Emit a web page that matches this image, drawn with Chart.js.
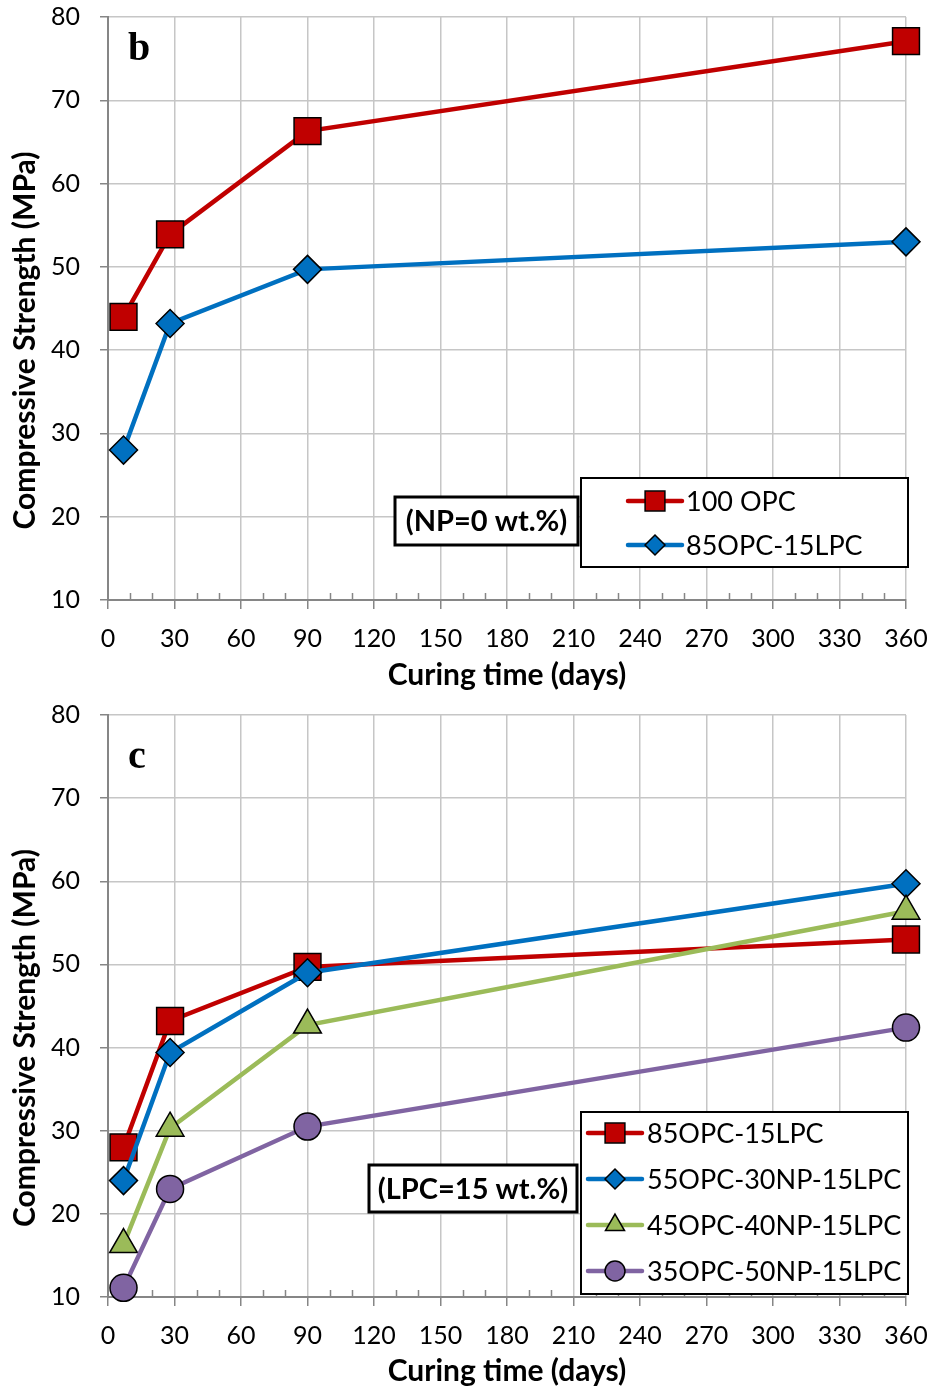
<!DOCTYPE html>
<html>
<head>
<meta charset="utf-8">
<script src="https://cdn.jsdelivr.net/npm/chart.js@4.4.0/dist/chart.umd.min.js"></script>
<style>
  body { margin: 0; background: #fff; }
  canvas { display: block; }
</style>
</head>
<body>
<canvas id="panelB" width="932" height="695"></canvas>
<canvas id="panelC" width="932" height="694"></canvas>
<script>
// curing ages (days) and compressive strength (MPa)
var curingDays = [7, 28, 90, 360];

// panel b (NP = 0 wt.%)
var labelsB = ["100 OPC", "85OPC-15LPC"];
var opc100 = [44.0, 53.9, 66.3, 77.1];
var opc85lpc15 = [28.0, 43.2, 49.7, 53.0];

// panel c (LPC = 15 wt.%)
var labelsC = ["85OPC-15LPC", "55OPC-30NP-15LPC", "45OPC-40NP-15LPC", "35OPC-50NP-15LPC"];
var mixC85 = [28.0, 43.2, 49.7, 53.0];
var mixC55 = [24.0, 39.4, 49.0, 59.7];
var mixC45 = [16.3, 30.3, 42.7, 56.4];
var mixC35 = [11.1, 23.0, 30.5, 42.4];

var xMin = 0, xMax = 360, xStep = 30, xMinorStep = 10;
var yMin = 10, yMax = 80, yStep = 10;
var yTitle = "Compressive Strength (MPa)";
var xTitle = "Curing time (days)";

var FONT = "Lato";
var AXIS_GRAY = "#868686";
var GRID_GRAY = "#c6c6c6";

function toPoints(vals) {
    return curingDays.map(function (d, i) { return { x: d, y: vals[i] }; });
}

function makeDataset(label, vals, color, style, radius, n, i) {
    return {
        label: label,
        data: toPoints(vals),
        borderColor: color,
        backgroundColor: color,
        borderWidth: 4.5,
        pointStyle: style,
        pointRadius: radius,
        pointHoverRadius: radius,
        pointBackgroundColor: color,
        pointBorderColor: "#000",
        pointBorderWidth: 1.5,
        tension: 0,
        clip: false,
        order: n - i
    };
}

// small inside ticks every 10 days on the x axis
var minorTicks = {
    id: "minorTicks",
    beforeDatasetsDraw: function (chart) {
        var ctx = chart.ctx, xs = chart.scales.x, bottom = chart.chartArea.bottom;
        ctx.save();
        ctx.strokeStyle = AXIS_GRAY;
        ctx.lineWidth = 1.5;
        for (var v = xMin + xMinorStep; v < xMax; v += xMinorStep) {
            if (v % xStep === 0) continue;
            var px = Math.round(xs.getPixelForValue(v)) + 0.5;
            ctx.beginPath();
            ctx.moveTo(px, bottom);
            ctx.lineTo(px, bottom - 7);
            ctx.stroke();
        }
        ctx.restore();
    }
};

// y title, legend box, note box and panel letter
var panelDecor = {
    id: "panelDecor",
    afterDraw: function (chart) {
        var o = chart.options.plugins.panelDecor;
        var ctx = chart.ctx, area = chart.chartArea;
        ctx.save();

        // y axis title (sits a bit below the middle of the axis)
        ctx.fillStyle = "#000";
        ctx.textAlign = "center";
        ctx.textBaseline = "middle";
        ctx.font = "bold 30px " + FONT;
        ctx.translate(25, (area.top + area.bottom) / 2 + 32);
        ctx.rotate(-Math.PI / 2);
        ctx.fillText(yTitle, 0, 0);
        ctx.setTransform(1, 0, 0, 1, 0, 0);

        // panel letter
        ctx.font = "bold 40px 'Liberation Serif'";
        ctx.fillText(o.letter, o.letterX, o.letterY);

        // note box
        var nb = o.note;
        ctx.fillStyle = "#fff";
        ctx.fillRect(nb.x, nb.y, nb.w, nb.h);
        ctx.lineWidth = 3;
        ctx.strokeStyle = "#000";
        ctx.strokeRect(nb.x, nb.y, nb.w, nb.h);
        ctx.fillStyle = "#000";
        ctx.font = "bold 29px " + FONT;
        ctx.fillText(nb.text, nb.x + nb.w / 2, nb.y + nb.h / 2 + 1);

        // legend box
        var lb = o.legend;
        ctx.fillStyle = "#fff";
        ctx.fillRect(lb.x, lb.y, lb.w, lb.h);
        ctx.lineWidth = 2;
        ctx.strokeRect(lb.x, lb.y, lb.w, lb.h);
        ctx.font = "27px " + FONT;
        ctx.textAlign = "left";
        chart.data.datasets.forEach(function (ds, i) {
            var ry = lb.firstRow + i * lb.rowGap;
            ctx.strokeStyle = ds.borderColor;
            ctx.lineWidth = 4.5;
            ctx.lineCap = "round";
            ctx.beginPath();
            ctx.moveTo(lb.lineX0, ry);
            ctx.lineTo(lb.lineX1, ry);
            ctx.stroke();
            ctx.fillStyle = ds.pointBackgroundColor;
            ctx.strokeStyle = "#000";
            ctx.lineWidth = 1.5;
            var r = ds.pointStyle === "rect" ? 14 : (ds.pointStyle === "triangle" ? 11 : 10);
            Chart.helpers.drawPoint(ctx, { pointStyle: ds.pointStyle, radius: r, rotation: 0, borderWidth: 1.5 },
                (lb.lineX0 + lb.lineX1) / 2, ry);
            ctx.fillStyle = "#000";
            ctx.fillText(ds.label, lb.textX, ry + 1);
        });
        ctx.restore();
    }
};

function makeOptions(xAxisHeight, xTitlePad, decor) {
    return {
        responsive: false,
        animation: false,
        events: [],
        layout: { autoPadding: false, padding: { top: decor.padTop, right: 26, left: 0, bottom: 0 } },
        plugins: {
            legend: { display: false },
            tooltip: { enabled: false },
            panelDecor: decor
        },
        scales: {
            x: {
                type: "linear",
                min: xMin,
                max: xMax,
                ticks: { stepSize: xStep, color: "#000", font: { family: FONT, size: 25 }, padding: 15, maxRotation: 0, autoSkip: false },
                grid: { color: GRID_GRAY, lineWidth: 1.5, tickLength: 9, tickColor: AXIS_GRAY, tickWidth: 1.5 },
                border: { color: AXIS_GRAY, width: 2 },
                title: { display: true, text: xTitle, color: "#000", font: { family: FONT, size: 30, weight: "bold" }, padding: { top: 0, bottom: xTitlePad } },
                afterFit: function (s) {
                    s.height = xAxisHeight;
                    s.paddingLeft = 0;
                    s.paddingRight = 0;
                }
            },
            y: {
                min: yMin,
                max: yMax,
                ticks: { stepSize: yStep, color: "#000", font: { family: FONT, size: 25 }, padding: 20 },
                grid: { color: GRID_GRAY, lineWidth: 1.5, tickLength: 8, tickColor: AXIS_GRAY, tickWidth: 1.5 },
                border: { color: AXIS_GRAY, width: 2 },
                title: { display: false },
                afterFit: function (s) {
                    s.width = 108;
                    s.paddingTop = 0;
                    s.paddingBottom = 0;
                }
            }
        }
    };
}

// panel b
var dsB = [
    makeDataset(labelsB[0], opc100, "#C00000", "rect", 19, 2, 0),
    makeDataset(labelsB[1], opc85lpc15, "#0070C0", "rectRot", 14, 2, 1)
];
var chartB = new Chart(document.getElementById("panelB"), {
    type: "line",
    data: { datasets: dsB },
    options: makeOptions(95, 2, {
        padTop: 17,
        letter: "b", letterX: 139, letterY: 50,
        note: { text: "(NP=0 wt.%)", x: 395, y: 497, w: 183, h: 48 },
        legend: { x: 581, y: 478, w: 327, h: 89, firstRow: 501, rowGap: 44, lineX0: 628, lineX1: 682, textX: 686 }
    }),
    plugins: [minorTicks, panelDecor]
});

// panel c
var dsC = [
    makeDataset(labelsC[0], mixC85, "#C00000", "rect", 19, 4, 0),
    makeDataset(labelsC[1], mixC55, "#0070C0", "rectRot", 14, 4, 1),
    makeDataset(labelsC[2], mixC45, "#9BBB59", "triangle", 16, 4, 2),
    makeDataset(labelsC[3], mixC35, "#8064A2", "circle", 13.5, 4, 3)
];
var chartC = new Chart(document.getElementById("panelC"), {
    type: "line",
    data: { datasets: dsC },
    options: makeOptions(92, 0, {
        padTop: 20,
        letter: "c", letterX: 137, letterY: 63,
        note: { text: "(LPC=15 wt.%)", x: 369, y: 470, w: 208, h: 47 },
        legend: { x: 581, y: 417, w: 327, h: 182, firstRow: 438, rowGap: 46, lineX0: 588, lineX1: 642, textX: 647 }
    }),
    plugins: [minorTicks, panelDecor]
});
</script>
</body>
</html>
